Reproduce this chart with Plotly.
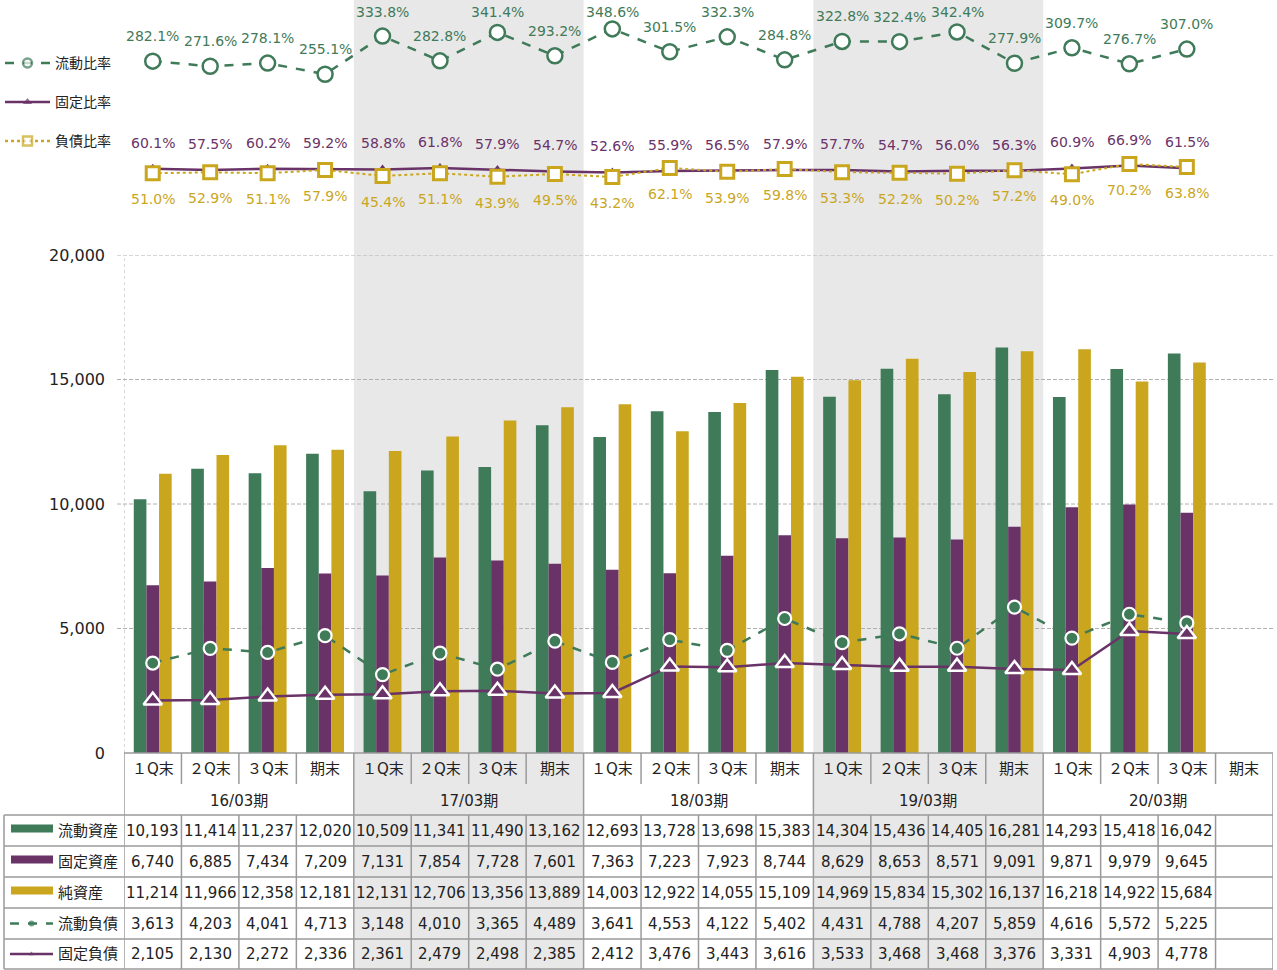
import plotly.graph_objects as go

# ---------------- data ----------------
quarters = ["１Q末", "２Q末", "３Q末", "期末"]
periods = ["16/03期", "17/03期", "18/03期", "19/03期", "20/03期"]
categories = [q for p in periods for q in quarters]

current_assets = [10193, 11414, 11237, 12020, 10509, 11341, 11490, 13162, 12693, 13728,
                  13698, 15383, 14304, 15436, 14405, 16281, 14293, 15418, 16042]
fixed_assets = [6740, 6885, 7434, 7209, 7131, 7854, 7728, 7601, 7363, 7223,
                7923, 8744, 8629, 8653, 8571, 9091, 9871, 9979, 9645]
net_assets = [11214, 11966, 12358, 12181, 12131, 12706, 13356, 13889, 14003, 12922,
              14055, 15109, 14969, 15834, 15302, 16137, 16218, 14922, 15684]
current_liab = [3613, 4203, 4041, 4713, 3148, 4010, 3365, 4489, 3641, 4553,
                4122, 5402, 4431, 4788, 4207, 5859, 4616, 5572, 5225]
fixed_liab = [2105, 2130, 2272, 2336, 2361, 2479, 2498, 2385, 2412, 3476,
              3443, 3616, 3533, 3468, 3468, 3376, 3331, 4903, 4778]

current_ratio = [282.1, 271.6, 278.1, 255.1, 333.8, 282.8, 341.4, 293.2, 348.6, 301.5,
                 332.3, 284.8, 322.8, 322.4, 342.4, 277.9, 309.7, 276.7, 307.0]
fixed_ratio = [60.1, 57.5, 60.2, 59.2, 58.8, 61.8, 57.9, 54.7, 52.6, 55.9,
               56.5, 57.9, 57.7, 54.7, 56.0, 56.3, 60.9, 66.9, 61.5]
debt_ratio = [51.0, 52.9, 51.1, 57.9, 45.4, 51.1, 43.9, 49.5, 43.2, 62.1,
              53.9, 59.8, 53.3, 52.2, 50.2, 57.2, 49.0, 70.2, 63.8]

row_names = ["流動資産", "固定資産", "純資産", "流動負債", "固定負債"]
row_values = [current_assets, fixed_assets, net_assets, current_liab, fixed_liab]
shaded_periods = [1, 3]
y_ticks = [0, 5000, 10000, 15000, 20000]

# ---------------- style ----------------
GREEN = "#3F7A59"
PURPLE = "#6A3368"
GOLD = "#C9A61E"
SHADE = "#E8E8E8"
GRID = "#B0B0B0"
BORDER = "#9A9A9A"
TXT = "#222222"
FONT = "DejaVu Sans, Noto Sans CJK JP, sans-serif"

W, H = 1277, 970
def px(x): return x / W
def py(y): return 1 - y / H

# ratio axis geometry (pixels) and label offset
R_TOP, R_BOT, R_MAX = 4, 198, 400
R_PX_PER_UNIT = (R_BOT - R_TOP) / R_MAX
LABEL_OFF = 25
LABEL_MIN_PX = 12

n = len(categories)
xs = list(range(len(current_assets)))

fig = go.Figure()

# bars
for vals, col, name in [(current_assets, GREEN, row_names[0]),
                        (fixed_assets, PURPLE, row_names[1]),
                        (net_assets, GOLD, row_names[2])]:
    fig.add_trace(go.Bar(x=xs, y=vals, name=name, marker=dict(color=col, line=dict(width=0)),
                         xaxis="x", yaxis="y", showlegend=False, hoverinfo="skip"))

# liability lines
fig.add_trace(go.Scatter(x=xs, y=current_liab, mode="lines+markers", xaxis="x", yaxis="y",
                         line=dict(color=GREEN, width=2.5, dash="dash"),
                         marker=dict(symbol="circle", size=13, color=GREEN, line=dict(color="white", width=2.2)),
                         showlegend=False, hoverinfo="skip"))
fig.add_trace(go.Scatter(x=xs, y=fixed_liab, mode="lines+markers", xaxis="x", yaxis="y",
                         line=dict(color=PURPLE, width=2.5),
                         marker=dict(symbol="triangle-up", size=16, color=PURPLE, line=dict(color="white", width=2.5)),
                         showlegend=False, hoverinfo="skip"))

# ratio lines
fig.add_trace(go.Scatter(x=xs, y=current_ratio, mode="lines+markers", xaxis="x", yaxis="y2",
                         line=dict(color=GREEN, width=2.5, dash="dash"),
                         marker=dict(symbol="circle", size=15, color="white", line=dict(color=GREEN, width=2.5)),
                         showlegend=False, hoverinfo="skip"))
fig.add_trace(go.Scatter(x=xs, y=fixed_ratio, mode="lines+markers", xaxis="x", yaxis="y2",
                         line=dict(color=PURPLE, width=2.5),
                         marker=dict(symbol="triangle-up", size=10, color=PURPLE),
                         showlegend=False, hoverinfo="skip"))
fig.add_trace(go.Scatter(x=xs, y=debt_ratio, mode="lines+markers", xaxis="x", yaxis="y2",
                         line=dict(color=GOLD, width=2, dash="dot"),
                         marker=dict(symbol="square", size=13, color="white", line=dict(color=GOLD, width=3)),
                         showlegend=False, hoverinfo="skip"))

annotations = []
shapes = []

def ann(**kw):
    kw.setdefault("showarrow", False)
    kw.setdefault("xanchor", "center")
    kw.setdefault("yanchor", "middle")
    annotations.append(kw)

# ratio labels (current-ratio labels kept inside the top edge)
cap = (R_BOT - LABEL_MIN_PX) / R_PX_PER_UNIT
for i in xs:
    ly = min(current_ratio[i] + LABEL_OFF / R_PX_PER_UNIT, cap)
    ann(x=i, y=ly, xref="x", yref="y2", text=f"{current_ratio[i]:.1f}%",
        font=dict(size=14, color=GREEN))
    ann(x=i, y=fixed_ratio[i], xref="x", yref="y2", text=f"{fixed_ratio[i]:.1f}%",
        yshift=26, font=dict(size=14, color=PURPLE))
    ann(x=i, y=debt_ratio[i], xref="x", yref="y2", text=f"{debt_ratio[i]:.1f}%",
        yshift=-26, font=dict(size=14, color=GOLD))

# shaded periods
for k in shaded_periods:
    shapes.append(dict(type="rect", xref="x", yref="paper", x0=4 * k - 0.5, x1=4 * k + 3.5, y0=0, y1=1,
                       fillcolor=SHADE, line=dict(width=0), layer="below"))

# gridlines
for v in y_ticks[1:]:
    shapes.append(dict(type="line", xref="paper", yref="y", x0=px(117), x1=px(1273), y0=v, y1=v,
                       line=dict(color=GRID, width=1, dash="4px,2px"), layer="below"))
shapes.append(dict(type="line", xref="x", yref="y", x0=-0.5, x1=-0.5, y0=0, y1=y_ticks[-1],
                   line=dict(color=GRID, width=1, dash="dot"), layer="below"))

# ---------------- table ----------------
def hline(y, xa, xb, xref="x"):
    shapes.append(dict(type="line", xref=xref, yref="paper", x0=xa, x1=xb, y0=py(y), y1=py(y),
                       line=dict(color=BORDER, width=1.5)))

def vline(x, ya, yb, xref="x"):
    shapes.append(dict(type="line", xref=xref, yref="paper", x0=x, x1=x, y0=py(ya), y1=py(yb),
                       line=dict(color=BORDER, width=1.5)))

Y_AX, Y_Q, Y_P = 753, 784, 815
row_b = [815, 846, 877, 908, 939, 969]

hline(Y_AX, -0.5, n - 0.5)
for j in range(n + 1):
    vline(j - 0.5, Y_AX, Y_Q)
for k in range(len(periods) + 1):
    vline(4 * k - 0.5, Y_Q, Y_P)
for yb in row_b:
    hline(yb, -0.5, n - 0.5)
    hline(yb, px(4), px(124), xref="paper")
for j in range(n + 1):
    vline(j - 0.5, row_b[0], row_b[-1])
vline(px(4), row_b[0], row_b[-1], xref="paper")

for j, q in enumerate(categories):
    ann(x=j, y=py((Y_AX + Y_Q) / 2), xref="x", yref="paper", text=q,
        font=dict(size=15, color=TXT))
for k, p in enumerate(periods):
    ann(x=4 * k + 1.5, y=py((Y_Q + Y_P) / 2 + 1), xref="x", yref="paper", text=p,
        font=dict(size=15, color=TXT))
for r, (name, vals) in enumerate(zip(row_names, row_values)):
    yc = (row_b[r] + row_b[r + 1]) / 2
    for j, v in enumerate(vals):
        ann(x=j, y=py(yc), xref="x", yref="paper", text=f"{v:,}",
            font=dict(size=15, color=TXT))
    ann(x=px(56), y=py(yc), xref="paper", yref="paper", text=name, xanchor="left",
        font=dict(size=15, color=TXT))

# table legend symbols
for r, col in enumerate([GREEN, PURPLE, GOLD]):
    yc = (row_b[r] + row_b[r + 1]) / 2
    shapes.append(dict(type="rect", xref="paper", yref="paper", x0=px(11), x1=px(53),
                       y0=py(yc - 6), y1=py(yc + 2), fillcolor=col, line=dict(width=0)))

# legend glyph traces in pixel space
def glyph(x0, x1, y, color, dash, symbol, msize, mfill, mline):
    fig.add_trace(go.Scatter(x=[x0, (x0 + x1) / 2, x1], y=[y, y, y], mode="lines+markers",
                             xaxis="x3", yaxis="y3", showlegend=False, hoverinfo="skip",
                             line=dict(color=color, width=2.5, dash=dash),
                             marker=dict(symbol=symbol, size=[0, msize, 0], color=mfill,
                                         line=dict(color=color, width=mline))))

yc4 = (row_b[3] + row_b[4]) / 2
yc5 = (row_b[4] + row_b[5]) / 2
glyph(10, 53, yc4, GREEN, "dash", "circle", 6, GREEN, 0)
glyph(10, 53, yc5, PURPLE, "solid", "triangle-up", 5, PURPLE, 0)

# top-left ratio legend
top_leg = [("流動比率", 63, GREEN, "dash", "circle", 9, "white", 2.5),
           ("固定比率", 102, PURPLE, "solid", "triangle-up", 8, PURPLE, 0),
           ("負債比率", 141, GOLD, "dot", "square", 9, "white", 2.5)]
for name, y, col, dash, sym, ms, mf, ml in top_leg:
    glyph(5, 50, y, col, dash, sym, ms, mf, ml)
    ann(x=px(53), y=py(y), xref="paper", yref="paper", text=name, xanchor="left",
        font=dict(size=14, color=TXT))

fig.update_layout(
    width=W, height=H, autosize=False,
    margin=dict(l=0, r=0, t=0, b=0, pad=0, autoexpand=False),
    paper_bgcolor="white", plot_bgcolor="rgba(0,0,0,0)",
    font=dict(family=FONT, color=TXT),
    barmode="group", bargap=0.34, bargroupgap=0,
    xaxis=dict(domain=[px(124), px(1273)], range=[-0.5, n - 0.5], showticklabels=False,
               showgrid=False, zeroline=False, showline=False, anchor="y", automargin=False),
    yaxis=dict(domain=[py(753), py(255)], range=[0, 20000], tickvals=y_ticks, tickformat=",d",
               showgrid=False, zeroline=False, showline=False, ticks="", automargin=False,
               tickfont=dict(size=16, color=TXT), ticklabelstandoff=18, anchor="x"),
    yaxis2=dict(domain=[py(R_BOT), py(R_TOP)], range=[0, R_MAX], visible=False, anchor="x",
                automargin=False),
    xaxis3=dict(domain=[0, 1], range=[0, W], visible=False, anchor="y3", automargin=False),
    yaxis3=dict(domain=[0, 1], range=[H, 0], visible=False, anchor="x3", automargin=False),
    shapes=shapes, annotations=annotations, showlegend=False,
)

fig.write_html("out.html", config={"displayModeBar": False},
               post_script="document.body.style.margin='0';")
